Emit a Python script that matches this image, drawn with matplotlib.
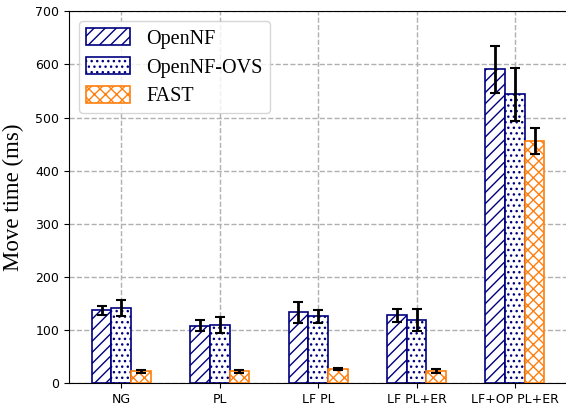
import matplotlib
matplotlib.use("Agg")
import matplotlib.pyplot as plt
import numpy as np

categories = ["NG", "PL", "LF PL", "LF PL+ER", "LF+OP PL+ER"]
series_names = ["OpenNF", "OpenNF-OVS", "FAST"]
opennf = [137, 108, 133, 128, 591]
opennf_err = [8, 10, 20, 12, 44]
opennf_ovs = [141, 110, 126, 119, 544]
opennf_ovs_err = [15, 15, 12, 20, 50]
fast = [22, 22, 27, 23, 456]
fast_err = [3, 3, 2, 4, 25]

fig, ax = plt.subplots(figsize=(5.66, 4.05), dpi=100)
fig.subplots_adjust(left=0.122, right=1.002, bottom=0.054, top=0.972)

x = np.arange(len(categories))
w = 0.2
styles = [
    (opennf, opennf_err, "navy", "///"),
    (opennf_ovs, opennf_ovs_err, "navy", "..."),
    (fast, fast_err, "#ff7f0e", "xxx"),
]
for i, (vals, errs, col, hatch) in enumerate(styles):
    ax.bar(x + (i - 1) * w, vals, w, yerr=errs, color="white", edgecolor=col,
           hatch=hatch, linewidth=1.2, label=series_names[i], zorder=3,
           error_kw=dict(ecolor="black", elinewidth=2, capsize=3.5, capthick=1.5, zorder=4))

ax.set_ylim(0, 700)
ax.set_xticks(x)
ax.set_xticklabels(categories, fontsize=9)
ax.tick_params(axis="y", labelsize=9)
ax.set_ylabel("Move time (ms)", fontsize=16.5, family="Liberation Serif", labelpad=8)
ax.grid(True, linestyle="--", color="#b0b0b0", linewidth=1, zorder=0)
ax.set_axisbelow(True)
ax.legend(loc="upper left", prop={"family": "Liberation Serif", "size": 14.5},
          handlelength=2.2, handleheight=0.9, borderpad=0.35, labelspacing=0.42)

fig.savefig("out.png", dpi=100)
